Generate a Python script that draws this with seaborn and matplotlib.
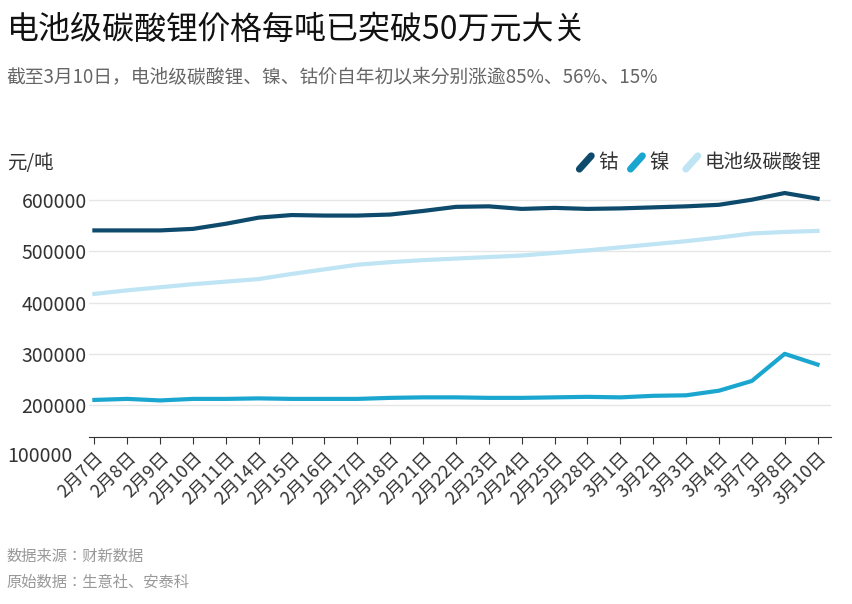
import matplotlib
matplotlib.use("Agg")
import matplotlib.pyplot as plt
import pandas as pd
import seaborn as sns

plt.rcParams["font.family"] = ["Noto Sans CJK SC", "Noto Sans CJK JP", "Noto Sans CJK TC", "DejaVu Sans"]

dates = ["2月7日", "2月8日", "2月9日", "2月10日", "2月11日", "2月14日", "2月15日", "2月16日",
         "2月17日", "2月18日", "2月21日", "2月22日", "2月23日", "2月24日", "2月25日", "2月28日",
         "3月1日", "3月2日", "3月3日", "3月4日", "3月7日", "3月8日", "3月10日"]
cobalt = [541000, 541000, 541000, 544000, 554000, 566000, 571000, 570000, 570000, 572000,
          579000, 587000, 588000, 583000, 585000, 583000, 584000, 586000, 588000, 591000,
          601000, 614000, 603000]
nickel = [210000, 212000, 209000, 212000, 212000, 213000, 212000, 212000, 212000, 214000,
          215000, 215000, 214000, 214000, 215000, 216000, 215000, 218000, 219000, 228000,
          247000, 300000, 279000]
lithium = [417000, 424000, 430000, 436000, 441000, 446000, 456000, 465000, 474000, 479000,
           483000, 486000, 489000, 492000, 497000, 502000, 508000, 514000, 520000, 527000,
           535000, 538000, 540000]

df = pd.DataFrame({"date": dates, "钴": cobalt, "镍": nickel, "电池级碳酸锂": lithium})
long = df.melt(id_vars="date", var_name="metal", value_name="price")
palette = {"钴": "#0d4a6b", "镍": "#1ba6d0", "电池级碳酸锂": "#bfe4f4"}

fig = plt.figure(figsize=(8.52, 6.04), dpi=100)
ax = fig.add_axes([0.105, 0.2765, 0.87, 0.409])
sns.lineplot(data=long, x="date", y="price", hue="metal", palette=palette,
             linewidth=3, sort=False, ax=ax, legend=False)

ax.set_ylim(137600, 620000)
ax.set_yticks([200000, 300000, 400000, 500000, 600000])
ax.set_xlim(-0.15, len(dates) - 0.6)
ax.grid(axis="y", color="#e6e6e6", linewidth=1)
ax.grid(axis="x", visible=False)
for s in ["top", "right", "left"]:
    ax.spines[s].set_visible(False)
ax.spines["bottom"].set_color("#333333")
ax.tick_params(axis="y", length=0, labelsize=14, colors="#333333", pad=2)
ax.tick_params(axis="x", length=5, labelsize=13, colors="#333333")
plt.setp(ax.get_xticklabels(), rotation=45, ha="right", rotation_mode="anchor")
ax.set_xlabel("")
ax.set_ylabel("")
fig.text(0.008, 0.235, "100000", fontsize=14, color="#333333")

fig.text(0.008, 0.935, "电池级碳酸锂价格每吨已突破50万元大关", fontsize=23, color="#111111")
fig.text(0.008, 0.862, "截至3月10日，电池级碳酸锂、镍、钴价自年初以来分别涨逾85%、56%、15%",
         fontsize=13.5, color="#666666")
fig.text(0.008, 0.72, "元/吨", fontsize=14, color="#333333")

# legend
x0 = 0.68
for name, col, dx in [("钴", "#0d4a6b", 0.0), ("镍", "#1ba6d0", 0.06), ("电池级碳酸锂", "#bfe4f4", 0.125)]:
    fig.add_artist(plt.Line2D([x0 + dx, x0 + dx + 0.014], [0.72, 0.742], color=col,
                              linewidth=5, solid_capstyle="round", transform=fig.transFigure))
    fig.text(x0 + dx + 0.022, 0.731, name, fontsize=14, color="#333333", va="center")

fig.text(0.008, 0.072, "数据来源：财新数据", fontsize=11, color="#999999")
fig.text(0.008, 0.028, "原始数据：生意社、安泰科", fontsize=11, color="#999999")

fig.savefig("out.png", dpi=100)
